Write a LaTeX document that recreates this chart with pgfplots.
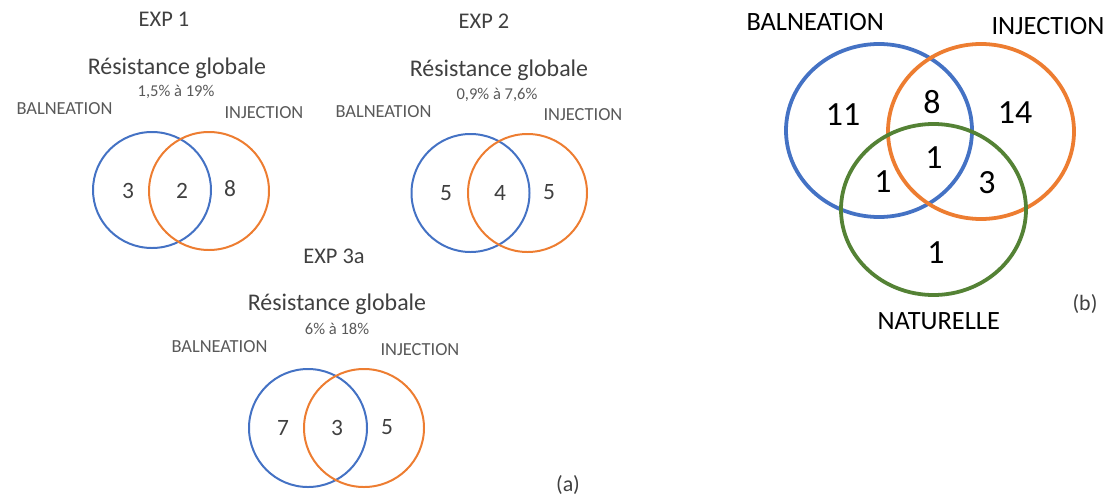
\documentclass[border=0pt]{standalone}
\usepackage{pgfplots}
\pgfplotsset{compat=1.18}
\usepackage{fontspec}
\setmainfont{Carlito}
\definecolor{vblue}{RGB}{68,114,196}
\definecolor{vorange}{RGB}{237,125,49}
\definecolor{vgreen}{RGB}{84,130,53}
\definecolor{tdark}{RGB}{64,64,64}
\definecolor{tgray}{RGB}{89,89,89}
\newcommand{\fs}[1]{\fontsize{#1}{#1}\selectfont}
\begin{document}
\begin{tikzpicture}
\begin{axis}[
  width=1108bp, height=496bp, scale only axis,
  xmin=0, xmax=1108, ymin=0, ymax=496, y dir=reverse,
  hide axis, clip=false,
  every node/.append style={inner sep=0pt},
]
% small panels: counts
\addplot[only marks, mark=none, nodes near coords, point meta=explicit symbolic,
  nodes near coords align={center},
  every node near coord/.append style={font=\fs{23.5}, text=tdark, anchor=center}]
  table[meta=label] {
x y label
128 191 3
182 191 2
230 189 8
446 193 5
500 193 4
549 192 5
283 428 7
337 428 3
387 427 5
};
% big panel: counts
\addplot[only marks, mark=none, nodes near coords, point meta=explicit symbolic,
  nodes near coords align={center},
  every node near coord/.append style={font=\fs{34}, text=black, anchor=center}]
  table[meta=label] {
x y label
843 115 11
932 102 8
1015 113 14
934 158 1
883 182 1
987 183 3
936 253 1
};
% circles
\draw[vblue, line width=2pt] (axis cs:152,190) ellipse [x radius=59, y radius=58];
\draw[vorange, line width=2pt] (axis cs:209,191) ellipse [x radius=60, y radius=59];
\draw[vblue, line width=2pt] (axis cs:470.5,193) ellipse [x radius=59, y radius=59];
\draw[vorange, line width=2pt] (axis cs:527.5,193) ellipse [x radius=59.5, y radius=59];
\draw[vblue, line width=2pt] (axis cs:308,428) ellipse [x radius=59, y radius=59];
\draw[vorange, line width=2pt] (axis cs:364,428) ellipse [x radius=60, y radius=59];
\draw[vblue, line width=3.8pt] (axis cs:879,130.5) ellipse [x radius=93, y radius=86.5];
\draw[vorange, line width=3.8pt] (axis cs:981,131.5) ellipse [x radius=93, y radius=87.5];
\draw[vgreen, line width=3.8pt] (axis cs:933.5,209.5) ellipse [x radius=92.5, y radius=85.5];
% titles panel a
\node[font=\fs{22.5}, text=tdark] at (axis cs:164,19) {EXP 1};
\node[font=\fs{24}, text=tdark] at (axis cs:177,68) {Résistance globale};
\node[font=\fs{16.6}, text=tgray] at (axis cs:176,92) {1,5\% à 19\%};
\node[font=\fs{18.5}, text=tgray, anchor=west] at (axis cs:13,109) {BALNEATION};
\node[font=\fs{18.5}, text=tgray, anchor=west] at (axis cs:221,113) {INJECTION};
\node[font=\fs{22.5}, text=tdark] at (axis cs:484,21) {EXP 2};
\node[font=\fs{24}, text=tdark] at (axis cs:499,70) {Résistance globale};
\node[font=\fs{16.6}, text=tgray] at (axis cs:497,95) {0,9\% à 7,6\%};
\node[font=\fs{18.5}, text=tgray, anchor=west] at (axis cs:332,112) {BALNEATION};
\node[font=\fs{18.5}, text=tgray, anchor=west] at (axis cs:540,115) {INJECTION};
\node[font=\fs{22.5}, text=tdark] at (axis cs:334,256) {EXP 3a};
\node[font=\fs{24}, text=tdark] at (axis cs:337,304) {Résistance globale};
\node[font=\fs{16.6}, text=tgray] at (axis cs:337,329) {6\% à 18\%};
\node[font=\fs{18.5}, text=tgray, anchor=west] at (axis cs:168,347) {BALNEATION};
\node[font=\fs{18.5}, text=tgray, anchor=west] at (axis cs:377,350) {INJECTION};
\node[font=\fs{22}, text=tdark] at (axis cs:568,485) {(a)};
% panel b labels
\node[font=\fs{26.5}, text=black, anchor=west] at (axis cs:743,22) {BALNEATION};
\node[font=\fs{26.5}, text=black, anchor=west] at (axis cs:988,26) {INJECTION};
\node[font=\fs{26.5}, text=black, anchor=west] at (axis cs:874,321) {NATURELLE};
\node[font=\fs{22}, text=tdark] at (axis cs:1085,304) {(b)};
\end{axis}
\pgfresetboundingbox
\path (current axis.south west) rectangle (current axis.north east);
\end{tikzpicture}
\end{document}
